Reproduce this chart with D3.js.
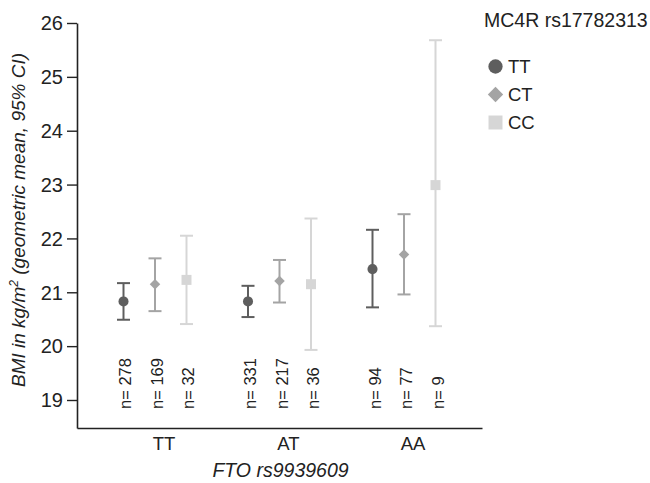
<!DOCTYPE html>
<html>
<head>
<meta charset="utf-8">
<script src="https://cdn.jsdelivr.net/npm/d3@7"></script>
<style>
  body { margin: 0; background: #fff; }
  svg { font-family: "Liberation Sans", Arial, Helvetica, sans-serif; }
</style>
</head>
<body>
<svg width="650" height="483"></svg>
<script>
// FTO groups on x, MC4R genotypes as series
var fto = ["TT", "AT", "AA"];
var mc4r = ["TT", "CT", "CC"];

// geometric means and 95% CI per MC4R genotype, one value per FTO group
var ttMean = [20.83, 20.83, 21.43];
var ttLow  = [20.49, 20.54, 20.72];
var ttHigh = [21.17, 21.12, 22.16];
var ctMean = [21.15, 21.21, 21.70];
var ctLow  = [20.65, 20.81, 20.96];
var ctHigh = [21.63, 21.60, 22.45];
var ccMean = [21.23, 21.15, 22.99];
var ccLow  = [20.41, 19.93, 20.37];
var ccHigh = [22.05, 22.37, 25.68];

// group sizes
var ttN = [278, 331, 94];
var ctN = [169, 217, 77];
var ccN = [32, 36, 9];

var yTicks = [19, 20, 21, 22, 23, 24, 25, 26];

var colors = { TT: "#5e5e5e", CT: "#a4a4a4", CC: "#d6d6d6" };
var shapes = { TT: d3.symbolCircle, CT: d3.symbolDiamond2, CC: d3.symbolSquare };

var series = [
    { key: "TT", mean: ttMean, low: ttLow, high: ttHigh, n: ttN },
    { key: "CT", mean: ctMean, low: ctLow, high: ctHigh, n: ctN },
    { key: "CC", mean: ccMean, low: ccLow, high: ccHigh, n: ccN }
];

var svg = d3.select("svg");
// (window.top is read-only, so plot edges get their own names)
var plotLeft = 77, plotRight = 482, plotTop = 23, plotBottom = 428;

var x = d3.scaleBand().domain(fto).range([plotLeft, plotRight])
    .paddingInner(0).paddingOuter(0.1265);
var xInner = d3.scalePoint().domain(mc4r).range([-31.5, 31.5]);
var y = d3.scaleLinear().domain([18.48, 26]).range([plotBottom, plotTop]);

function cx(g, s) {
    return x(g) + x.bandwidth() / 2 + xInner(s);
}

// y axis
var yAxis = svg.append("g")
    .attr("transform", "translate(" + plotLeft + ",0)")
    .call(d3.axisLeft(y).tickValues(yTicks).tickSize(10).tickSizeOuter(0).tickPadding(4));
yAxis.select(".domain").attr("stroke", "#222").attr("stroke-width", 1.6);
yAxis.selectAll(".tick line").attr("stroke", "#222").attr("stroke-width", 1.4);
yAxis.selectAll(".tick text").attr("font-size", 20).attr("fill", "#222")
    .attr("dy", "0.34em");

// x axis (line only, labels below)
var xAxis = svg.append("g")
    .attr("transform", "translate(0," + plotBottom + ")")
    .call(d3.axisBottom(x).tickSize(0).tickSizeOuter(0).tickPadding(9));
xAxis.select(".domain").attr("stroke", "#222").attr("stroke-width", 1.6);
xAxis.selectAll(".tick text").attr("font-size", 18.5).attr("fill", "#222")
    .attr("dx", 9);

// axis titles
svg.append("text")
    .attr("x", (plotLeft + plotRight) / 2 + 1)
    .attr("y", 477)
    .attr("text-anchor", "middle")
    .attr("font-size", 19.5)
    .attr("font-style", "italic")
    .attr("fill", "#222")
    .text("FTO rs9939609");

var yTitle = svg.append("text")
    .attr("transform", "translate(25,220) rotate(-90)")
    .attr("text-anchor", "middle")
    .attr("font-size", 19)
    .attr("font-style", "italic")
    .attr("fill", "#222");
yTitle.append("tspan").text("BMI in kg/m");
yTitle.append("tspan").attr("font-size", 12).attr("dy", -7).text("2");
yTitle.append("tspan").attr("dy", 7).text(" (geometric mean, 95% CI)");

// error bars and markers
series.forEach(function(s) {
    var g = svg.append("g").attr("class", "series-" + s.key);
    fto.forEach(function(grp, i) {
        var px = cx(grp, s.key);
        g.append("line")
            .attr("x1", px).attr("x2", px)
            .attr("y1", y(s.low[i])).attr("y2", y(s.high[i]))
            .attr("stroke", colors[s.key]).attr("stroke-width", 2);
        [s.low[i], s.high[i]].forEach(function(v) {
            g.append("line")
                .attr("x1", px - 6.5).attr("x2", px + 6.5)
                .attr("y1", y(v)).attr("y2", y(v))
                .attr("stroke", colors[s.key]).attr("stroke-width", 2);
        });
        var size = s.key == "TT" ? 80 : (s.key == "CT" ? 70 : 100);
        g.append("path")
            .attr("transform", "translate(" + px + "," + y(s.mean[i]) + ")")
            .attr("d", d3.symbol().type(shapes[s.key]).size(size)())
            .attr("fill", colors[s.key]);
        // n label
        g.append("text")
            .attr("transform", "translate(" + (px + 8) + ",409) rotate(-90)")
            .attr("font-size", 16.5)
            .attr("fill", "#222")
            .text("n= " + s.n[i]);
    });
});

// legend
var legend = svg.append("g").attr("transform", "translate(484,0)");
legend.append("text")
    .attr("x", 0).attr("y", 27)
    .attr("font-size", 19.5)
    .attr("fill", "#222")
    .text("MC4R rs17782313");
mc4r.forEach(function(k, i) {
    var ly = 66.5 + i * 28;
    var size = k == "TT" ? 160 : (k == "CT" ? 150 : 196);
    legend.append("path")
        .attr("transform", "translate(11.5," + ly + ")")
        .attr("d", d3.symbol().type(shapes[k]).size(size)())
        .attr("fill", colors[k]);
    legend.append("text")
        .attr("x", 24).attr("y", ly + 6.5)
        .attr("font-size", 18.5)
        .attr("fill", "#222")
        .text(k);
});
</script>
</body>
</html>
